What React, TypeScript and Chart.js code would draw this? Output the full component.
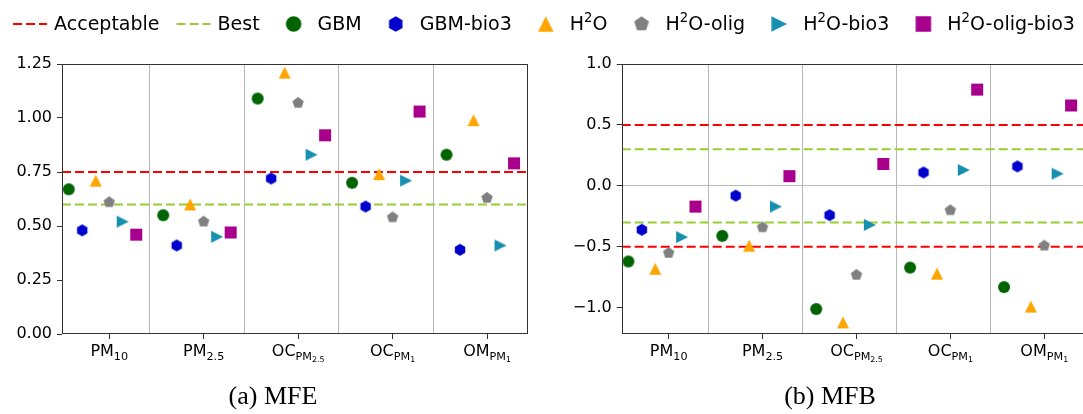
import React, { useEffect, useRef } from 'react';
import { Chart, registerables } from 'chart.js';

Chart.register(...registerables);

// ---------- data ----------
const CATEGORY_MAIN = ['PM', 'PM', 'OC', 'OC', 'OM'];
const CATEGORY_SUB = ['10', '2.5', 'PM', 'PM', 'PM'];
const CATEGORY_SUBSUB = ['', '', '2.5', '1', '1'];

const SERIES_NAMES = ['GBM', 'GBM-bio3', 'H^2O', 'H^2O-olig', 'H^2O-bio3', 'H^2O-olig-bio3'];
const SERIES_COLORS = ['#006400', '#0000cd', '#ffa500', '#808080', '#178fb0', '#a8008c'];
const SERIES_SHAPES = ['circle', 'hexagon', 'triUp', 'pentagon', 'triRight', 'square'];

const MFE_GBM = [0.67, 0.55, 1.09, 0.70, 0.83];
const MFE_GBM_BIO3 = [0.48, 0.41, 0.72, 0.59, 0.39];
const MFE_H2O = [0.71, 0.60, 1.21, 0.74, 0.99];
const MFE_H2O_OLIG = [0.61, 0.52, 1.07, 0.54, 0.63];
const MFE_H2O_BIO3 = [0.52, 0.45, 0.83, 0.71, 0.41];
const MFE_H2O_OLIG_BIO3 = [0.46, 0.47, 0.92, 1.03, 0.79];

const MFB_GBM = [-0.62, -0.41, -1.01, -0.67, -0.83];
const MFB_GBM_BIO3 = [-0.36, -0.08, -0.24, 0.11, 0.16];
const MFB_H2O = [-0.68, -0.49, -1.12, -0.72, -0.99];
const MFB_H2O_OLIG = [-0.55, -0.34, -0.73, -0.20, -0.49];
const MFB_H2O_BIO3 = [-0.42, -0.17, -0.32, 0.13, 0.10];
const MFB_H2O_OLIG_BIO3 = [-0.17, 0.08, 0.18, 0.79, 0.66];

const MFE_ACCEPTABLE = [0.75];
const MFE_BEST = [0.6];
const MFB_ACCEPTABLE = [0.5, -0.5];
const MFB_BEST = [0.3, -0.3];
const REF_NAMES = ['Acceptable', 'Best'];
const REF_COLORS = ['#ff0000', '#9acd32'];

const MFE_Y_TICKS = [0, 0.25, 0.5, 0.75, 1.0, 1.25];
const MFE_Y_LABELS = ['0.00', '0.25', '0.50', '0.75', '1.00', '1.25'];
const MFB_Y_TICKS = [-1.0, -0.5, 0.0, 0.5, 1.0];
const MFB_Y_LABELS = ['\u22121.0', '\u22120.5', '0.0', '0.5', '1.0'];

const CAPTIONS = ['(a) MFE', '(b) MFB'];

// ---------- layout / style ----------
const FONT = '"DejaVu Sans", sans-serif';
const CAPTION_FONT = '"Liberation Serif", serif';
const X_MIN = -0.5;
const X_MAX = 4 + 3 / 7;
const DODGE = 1 / 7;
const SEP = 3 / 7;
const SPINE = '#333333';
const GRID = '#b8b8b8';
const DASH = [9, 4];
const MARKER_SIZE = 12;
const LEGEND_MARKER_SIZE = 15.5;

type Part = [string, number, number];

function makeMarker(shape: string, color: string, ms: number): HTMLCanvasElement {
  const c = document.createElement('canvas');
  const dim = Math.ceil(ms) + 2;
  c.width = dim;
  c.height = dim;
  const ctx = c.getContext('2d')!;
  const cx = dim / 2;
  const cy = dim / 2;
  const h = ms / 2;
  ctx.fillStyle = color;
  ctx.beginPath();
  if (shape === 'circle') {
    ctx.arc(cx, cy, h, 0, Math.PI * 2);
  } else if (shape === 'square') {
    ctx.rect(cx - h, cy - h, ms, ms);
  } else if (shape === 'triUp') {
    ctx.moveTo(cx, cy - h);
    ctx.lineTo(cx + h, cy + h);
    ctx.lineTo(cx - h, cy + h);
  } else if (shape === 'triRight') {
    ctx.moveTo(cx + h, cy);
    ctx.lineTo(cx - h, cy - h);
    ctx.lineTo(cx - h, cy + h);
  } else {
    const n = shape === 'pentagon' ? 5 : 6;
    for (let k = 0; k < n; k++) {
      const a = -Math.PI / 2 + (k * 2 * Math.PI) / n;
      const px = cx + h * Math.cos(a);
      const py = cy + h * Math.sin(a);
      if (k === 0) ctx.moveTo(px, py);
      else ctx.lineTo(px, py);
    }
  }
  ctx.closePath();
  ctx.fill();
  return c;
}

function richWidth(ctx: CanvasRenderingContext2D, parts: Part[], base: number, family: string) {
  let w = 0;
  for (const [t, s] of parts) {
    ctx.font = `${base * s}px ${family}`;
    w += ctx.measureText(t).width;
  }
  return w;
}

function drawRich(
  ctx: CanvasRenderingContext2D,
  parts: Part[],
  x: number,
  y: number,
  base: number,
  family: string,
  align: 'left' | 'center'
) {
  const w = richWidth(ctx, parts, base, family);
  let cx = align === 'center' ? x - w / 2 : x;
  ctx.textAlign = 'left';
  ctx.textBaseline = 'alphabetic';
  for (const [t, s, dy] of parts) {
    ctx.font = `${base * s}px ${family}`;
    ctx.fillText(t, cx, y + dy * base);
    cx += ctx.measureText(t).width;
  }
}

function parseLabel(s: string): Part[] {
  const parts: Part[] = [];
  const re = /\^(.)/g;
  let last = 0;
  let m: RegExpExecArray | null;
  while ((m = re.exec(s))) {
    if (m.index > last) parts.push([s.slice(last, m.index), 1, 0]);
    parts.push([m[1], 0.7, -0.38]);
    last = m.index + 2;
  }
  if (last < s.length) parts.push([s.slice(last), 1, 0]);
  return parts;
}

function drawLegend(ctx: CanvasRenderingContext2D) {
  const f = 19;
  const handle = 34;
  const textPad = 7;
  const colGap = 17;
  const items: { kind: string; color: string; shape?: string; parts: Part[] }[] = [];
  REF_NAMES.forEach((n, j) => items.push({ kind: 'line', color: REF_COLORS[j], parts: parseLabel(n) }));
  SERIES_NAMES.forEach((n, k) =>
    items.push({ kind: 'marker', color: SERIES_COLORS[k], shape: SERIES_SHAPES[k], parts: parseLabel(n) })
  );
  const widths = items.map((it) => richWidth(ctx, it.parts, f, FONT));
  const total =
    widths.reduce((a, b) => a + b, 0) + items.length * (handle + textPad) + (items.length - 1) * colGap;
  let x = 544 - total / 2;
  const cy = 24;
  const baseline = 29.5;
  items.forEach((it, i) => {
    if (it.kind === 'line') {
      ctx.save();
      ctx.strokeStyle = it.color;
      ctx.lineWidth = 2;
      ctx.setLineDash(DASH);
      ctx.beginPath();
      ctx.moveTo(x, cy);
      ctx.lineTo(x + handle, cy);
      ctx.stroke();
      ctx.restore();
    } else {
      const img = makeMarker(it.shape!, it.color, LEGEND_MARKER_SIZE);
      ctx.drawImage(img, x + handle / 2 - img.width / 2, cy - img.height / 2);
    }
    ctx.fillStyle = '#000';
    drawRich(ctx, it.parts, x + handle + textPad, baseline, f, FONT, 'left');
    x += handle + textPad + widths[i] + colGap;
  });
}

interface PanelSpec {
  values: number[][];
  yMin: number;
  yMax: number;
  yTicks: number[];
  yLabels: string[];
  acceptable: number[];
  best: number[];
  yAxisWidth: number;
  padding: { left: number; right: number; top: number; bottom: number };
  caption: string;
  captionX: number;
  zeroLine: boolean;
  legend: boolean;
}

function makeDecor(p: PanelSpec) {
  return {
    id: 'decor',
    afterDatasetsDraw(chart: any) {
      const { ctx, chartArea: a, scales } = chart;
      ctx.save();
      ctx.strokeStyle = SPINE;
      ctx.lineWidth = 1;
      ctx.setLineDash([]);
      const l = Math.round(a.left) + 0.5;
      const t = Math.round(a.top) + 0.5;
      const r = Math.round(a.right) - 0.5;
      const b = Math.round(a.bottom) - 0.5;
      ctx.strokeRect(l, t, r - l, b - t);

      ctx.fillStyle = '#000';
      CATEGORY_MAIN.forEach((m, i) => {
        const x = scales.x.getPixelForValue(i);
        const parts: Part[] = [
          [m, 1, 0],
          [CATEGORY_SUB[i], 0.7, 0.22],
        ];
        if (CATEGORY_SUBSUB[i]) parts.push([CATEGORY_SUBSUB[i], 0.49, 0.36]);
        drawRich(ctx, parts, x, a.bottom + 22, 16, FONT, 'center');
      });

      ctx.font = `26px ${CAPTION_FONT}`;
      ctx.textAlign = 'center';
      ctx.textBaseline = 'alphabetic';
      ctx.fillText(p.caption, p.captionX, 404);

      if (p.legend) drawLegend(ctx);
      ctx.restore();
    },
  };
}

function refLine(v: number, color: string) {
  return {
    type: 'line',
    label: 'ref',
    data: [
      { x: X_MIN, y: v },
      { x: X_MAX, y: v },
    ],
    xAxisID: 'x',
    yAxisID: 'y',
    borderColor: color,
    backgroundColor: color,
    borderWidth: 2,
    borderDash: DASH,
    pointRadius: 0,
    showLine: true,
    fill: false,
    tension: 0,
    order: 10,
  };
}

function buildConfig(p: PanelSpec): any {
  const datasets: any[] = [];
  p.acceptable.forEach((v) => datasets.push(refLine(v, REF_COLORS[0])));
  p.best.forEach((v) => datasets.push(refLine(v, REF_COLORS[1])));
  p.values.forEach((vals, k) => {
    datasets.push({
      type: 'scatter',
      label: SERIES_NAMES[k],
      data: vals.map((v, i) => ({ x: i + (k - 3) * DODGE, y: v })),
      xAxisID: 'x',
      yAxisID: 'y',
      pointStyle: makeMarker(SERIES_SHAPES[k], SERIES_COLORS[k], MARKER_SIZE),
      pointRadius: 6,
      backgroundColor: SERIES_COLORS[k],
      borderColor: SERIES_COLORS[k],
      showLine: false,
      order: 6 - k,
    });
  });

  return {
    type: 'scatter',
    data: { datasets },
    options: {
      responsive: false,
      maintainAspectRatio: false,
      animation: false,
      devicePixelRatio: 1,
      events: [],
      layout: { padding: p.padding },
      plugins: { legend: { display: false }, tooltip: { enabled: false }, title: { display: false } },
      scales: {
        x: {
          type: 'linear',
          axis: 'x',
          position: 'bottom',
          min: X_MIN,
          max: X_MAX,
          afterBuildTicks: (s: any) => {
            s.ticks = CATEGORY_MAIN.map((_, i) => ({ value: i }));
          },
          afterFit: (s: any) => {
            s.height = 30;
          },
          ticks: { display: false, autoSkip: false },
          grid: {
            display: true,
            drawOnChartArea: false,
            drawTicks: true,
            tickLength: 5,
            tickColor: SPINE,
            tickWidth: 1,
          },
          border: { display: false },
        },
        xsep: {
          type: 'linear',
          axis: 'x',
          position: 'top',
          min: X_MIN,
          max: X_MAX,
          afterBuildTicks: (s: any) => {
            s.ticks = CATEGORY_MAIN.slice(1).map((_, i) => ({ value: i + SEP }));
          },
          afterFit: (s: any) => {
            s.height = 0;
          },
          ticks: { display: false, autoSkip: false },
          grid: { display: true, drawOnChartArea: true, drawTicks: false, color: GRID, lineWidth: 1 },
          border: { display: false },
        },
        y: {
          type: 'linear',
          axis: 'y',
          position: 'left',
          min: p.yMin,
          max: p.yMax,
          afterBuildTicks: (s: any) => {
            s.ticks = p.yTicks.map((v) => ({ value: v }));
          },
          afterFit: (s: any) => {
            s.width = p.yAxisWidth;
          },
          ticks: {
            autoSkip: false,
            font: { family: FONT, size: 16 },
            color: '#000',
            padding: 5,
            callback: (v: number) => {
              const idx = p.yTicks.findIndex((t) => Math.abs(t - v) < 1e-9);
              return idx >= 0 ? p.yLabels[idx] : '';
            },
          },
          grid: {
            display: true,
            drawOnChartArea: p.zeroLine,
            drawTicks: true,
            tickLength: 5,
            tickColor: SPINE,
            tickWidth: 1,
            lineWidth: 1,
            color: (c: any) => (c.tick && Math.abs(c.tick.value) < 1e-9 ? GRID : 'rgba(0,0,0,0)'),
          },
          border: { display: false },
        },
      },
    },
    plugins: [makeDecor(p)],
  };
}

export default function App() {
  const leftRef = useRef<HTMLCanvasElement>(null);
  const rightRef = useRef<HTMLCanvasElement>(null);

  useEffect(() => {
    const left = new Chart(
      leftRef.current!,
      buildConfig({
        values: [MFE_GBM, MFE_GBM_BIO3, MFE_H2O, MFE_H2O_OLIG, MFE_H2O_BIO3, MFE_H2O_OLIG_BIO3],
        yMin: 0,
        yMax: 1.25,
        yTicks: MFE_Y_TICKS,
        yLabels: MFE_Y_LABELS,
        acceptable: MFE_ACCEPTABLE,
        best: MFE_BEST,
        yAxisWidth: 62,
        padding: { left: 0, top: 64, right: 555.5, bottom: 50 },
        caption: CAPTIONS[0],
        captionX: 273,
        zeroLine: false,
        legend: true,
      })
    );
    const right = new Chart(
      rightRef.current!,
      buildConfig({
        values: [MFB_GBM, MFB_GBM_BIO3, MFB_H2O, MFB_H2O_OLIG, MFB_H2O_BIO3, MFB_H2O_OLIG_BIO3],
        yMin: -1.215,
        yMax: 1.0,
        yTicks: MFB_Y_TICKS,
        yLabels: MFB_Y_LABELS,
        acceptable: MFB_ACCEPTABLE,
        best: MFB_BEST,
        yAxisWidth: 81.7,
        padding: { left: 0, top: 64, right: 15.5, bottom: 50 },
        caption: CAPTIONS[1],
        captionX: 290,
        zeroLine: true,
        legend: false,
      })
    );
    return () => {
      left.destroy();
      right.destroy();
    };
  }, []);

  return (
    <div
      style={{
        position: 'fixed',
        left: 0,
        top: 0,
        width: 1083,
        height: 414,
        overflow: 'hidden',
        background: '#ffffff',
      }}
    >
      <canvas
        ref={leftRef}
        width={1083}
        height={414}
        style={{ position: 'absolute', left: 0, top: 0, width: 1083, height: 414 }}
      />
      <canvas
        ref={rightRef}
        width={560}
        height={414}
        style={{ position: 'absolute', left: 540, top: 0, width: 560, height: 414 }}
      />
    </div>
  );
}
